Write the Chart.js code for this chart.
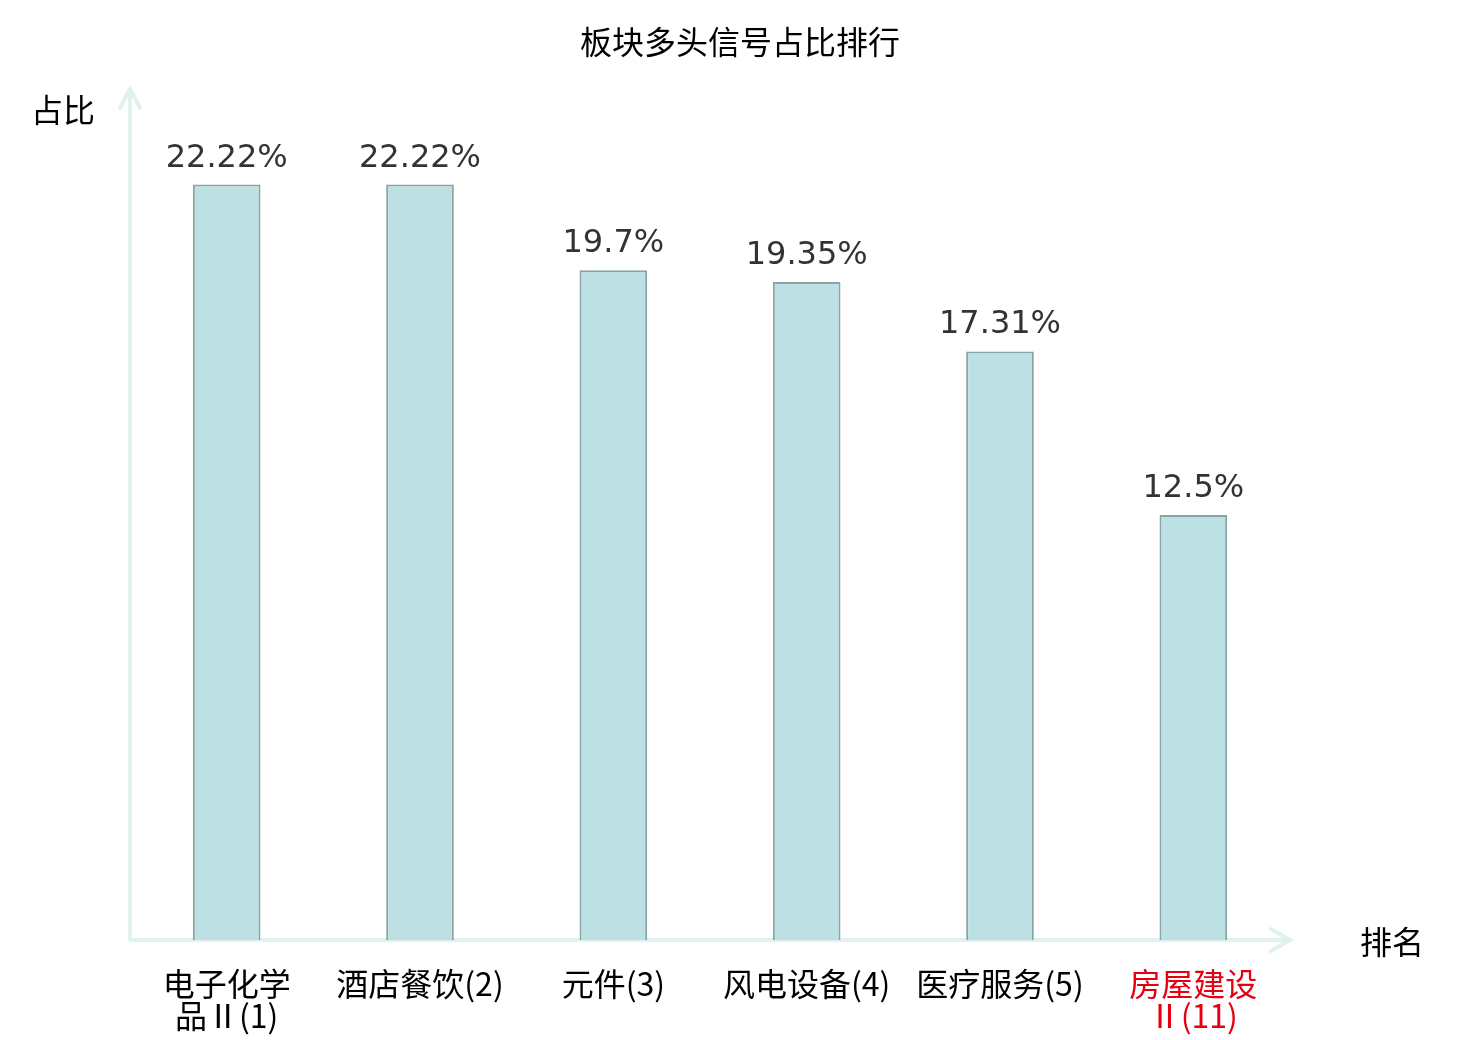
<!DOCTYPE html>
<html lang="zh">
<head>
    <meta charset="UTF-8">
    <title>板块多头信号占比排行</title>
    <script src="https://cdn.jsdelivr.net/npm/chart.js"></script>
    <style>
        html, body { margin: 0; padding: 0; background: #fff; }
    </style>
</head>
<body>
<canvas id="myChart" width="1480" height="1040"></canvas>
<script>
    // chart data
    const sectors = [
        ['电子化学', '品Ⅱ(1)'],
        '酒店餐饮(2)',
        '元件(3)',
        '风电设备(4)',
        '医疗服务(5)',
        ['房屋建设', 'Ⅱ(11)']
    ];
    const shares = [22.22, 22.22, 19.7, 19.35, 17.31, 12.5];
    const highlightIndex = 5;

    const titleText = '板块多头信号占比排行';
    const yName = '占比';
    const xName = '排名';

    const axisColor = '#dff2ef';
    const cjkFont = '"Noto Sans CJK SC", "Noto Sans", sans-serif';

    const decorations = {
        id: 'decorations',
        beforeDatasetsDraw(chart) {
            const { ctx, chartArea } = chart;
            const left = chartArea.left, bottom = chartArea.bottom;
            const top = chartArea.top, right = chartArea.right;
            ctx.save();
            ctx.strokeStyle = axisColor;
            ctx.lineWidth = 4;
            ctx.lineCap = 'round';
            ctx.beginPath();
            // y axis with arrow
            ctx.moveTo(left, bottom);
            ctx.lineTo(left, top - 1);
            ctx.moveTo(left - 10, top + 18);
            ctx.lineTo(left, top - 1);
            ctx.lineTo(left + 10, top + 18);
            // x axis with arrow
            ctx.moveTo(left, bottom);
            ctx.lineTo(right, bottom);
            ctx.moveTo(right - 19, bottom - 11);
            ctx.lineTo(right, bottom);
            ctx.lineTo(right - 19, bottom + 11);
            ctx.stroke();
            ctx.restore();
        },
        afterDatasetsDraw(chart) {
            const { ctx, chartArea } = chart;
            const meta = chart.getDatasetMeta(0);
            ctx.save();
            ctx.fillStyle = '#333';
            ctx.font = '32px "DejaVu Sans", sans-serif';
            ctx.textAlign = 'center';
            ctx.textBaseline = 'alphabetic';
            meta.data.forEach((bar, i) => {
                ctx.fillText(shares[i] + '%', bar.x, bar.y - 18);
            });

            ctx.fillStyle = '#000';
            ctx.font = '32px ' + cjkFont;
            ctx.textBaseline = 'middle';
            ctx.fillText(titleText, chart.width / 2, 42);
            ctx.fillText(yName, 63, 110);
            ctx.fillText(xName, 1392, chartArea.bottom + 2);
            ctx.restore();
        }
    };

    const ctx = document.getElementById('myChart').getContext('2d');
    const chart = new Chart(ctx, {
        type: 'bar',
        data: {
            labels: sectors,
            datasets: [{
                label: yName,
                data: shares,
                backgroundColor: '#bce0e3',
                borderColor: '#88a4a5',
                borderWidth: 2,
                barPercentage: 0.35,
                categoryPercentage: 1.0
            }]
        },
        options: {
            responsive: false,
            animation: false,
            devicePixelRatio: 1,
            layout: {
                padding: { top: 90, left: 130, right: 190, bottom: 0 }
            },
            plugins: {
                legend: { display: false },
                tooltip: { enabled: false }
            },
            scales: {
                x: {
                    grid: { display: false },
                    border: { display: false },
                    ticks: {
                        maxRotation: 0,
                        minRotation: 0,
                        autoSkip: false,
                        padding: 20,
                        font: { family: cjkFont, size: 32, lineHeight: 1.0 },
                        color: c => c.index === highlightIndex ? '#e60012' : '#000'
                    },
                    afterFit(scale) { scale.height = 100; }
                },
                y: {
                    display: false,
                    min: 0,
                    max: 25
                }
            }
        },
        plugins: [decorations]
    });
</script>
</body>
</html>
